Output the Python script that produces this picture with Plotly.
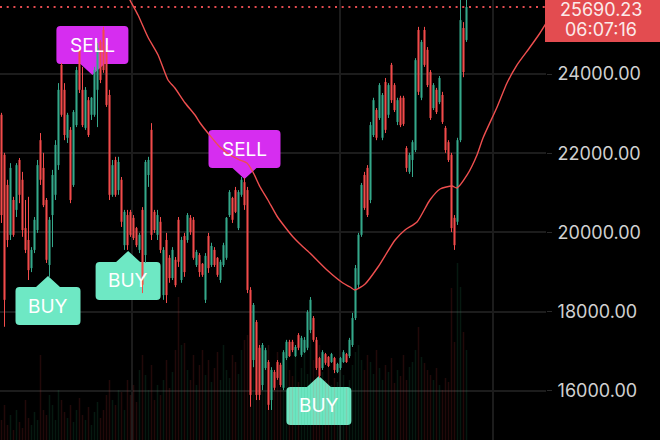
import plotly.graph_objects as go

# ---------------- data ----------------
opens = [22970, 21960, 21200, 19940, 20820, 20570, 21830, 21330, 20110, 19810,
         19100, 19560, 20060, 22330, 21630, 20820, 19180, 20440, 20950, 21700,
         24230, 23600, 22390, 22590, 21200, 22710, 24610, 23600, 22640, 23340,
         22970, 22970, 23600, 24810, 25110, 24730, 23470, 20950, 21830, 21070,
         21330, 19680, 20440, 20520, 20370, 20110, 19560, 20570, 19430, 21450,
         22590, 20520, 19940, 20270, 18420, 19810, 19360, 18850, 19310, 20320,
         18800, 19910, 19810, 20370, 20320, 19180, 19430, 19210, 18300, 19910,
         19180, 19560, 19360, 18800, 19180, 19360, 20440, 20870, 21070, 20110,
         20950, 21270, 21070, 18550, 16780, 17740, 17090, 16150, 16580, 16730,
         15770, 16480, 16730, 16660, 16080, 16830, 17240, 17240, 16880, 17410,
         16910, 16980, 17090, 17540, 17840, 17290, 16830, 16580, 16930, 16860,
         16730, 16830, 16480, 16580, 16730, 16930, 16880, 17160, 17840, 18680,
         19940, 21450, 21630, 20820, 22460, 23090, 22890, 22390, 23800, 22970,
         24230, 23720, 22790, 23400, 23400, 22130, 21530, 21830, 22080, 25110,
         23400, 25110, 24610, 24050, 23140, 23600, 23290, 23470, 22640, 22280,
         21960, 20370, 20270, 22330, 25160, 24860]
highs = [23020, 22010, 21330, 21750, 20900, 21750, 21880, 21530, 20820, 20900,
         19630, 20390, 21830, 22510, 22010, 20870, 20390, 21580, 22330, 23770,
         24280, 23770, 23020, 22660, 23090, 24180, 24680, 24180, 23670, 23420,
         23420, 24180, 24780, 24860, 25190, 24860, 23600, 21830, 21910, 21910,
         21400, 20570, 20570, 20570, 20440, 20140, 19990, 20640, 21830, 21910,
         22760, 20570, 20570, 20390, 19630, 19990, 19430, 19630, 19380, 20390,
         19890, 19990, 20490, 20440, 20390, 19560, 19480, 19230, 19480, 19990,
         19740, 19630, 19380, 19310, 19740, 20390, 21070, 20900, 21150, 21070,
         21400, 21380, 21150, 18620, 18220, 17790, 17160, 17210, 17090, 16780,
         16600, 16530, 16780, 16710, 17030, 17290, 17290, 17290, 17160, 17460,
         17390, 17360, 18040, 18370, 17890, 17360, 16860, 17030, 16960, 16880,
         16960, 16860, 16710, 16860, 17030, 16960, 17340, 17970, 19180, 19990,
         21250, 21530, 21700, 22790, 23400, 23140, 23770, 23520, 23900, 23770,
         24280, 23770, 23400, 23450, 23450, 22180, 22010, 22330, 24400, 25190,
         24860, 25190, 24680, 24100, 23770, 23650, 23950, 23550, 22690, 22330,
         22010, 20440, 22390, 25990, 25310, 26070]
lows = [20240, 17620, 19630, 19810, 19890, 20390, 20740, 19890, 19480, 18800,
        19000, 19480, 19990, 21200, 20640, 19230, 18880, 19630, 20820, 21580,
        22920, 22330, 22260, 20740, 21150, 22660, 23520, 22660, 22590, 22410,
        22840, 22920, 22660, 23770, 24030, 23170, 20820, 20900, 20900, 20950,
        20140, 19560, 19560, 19890, 19810, 19630, 19480, 18470, 19230, 21150,
        19810, 19990, 19810, 19480, 18300, 18220, 18730, 18800, 18620, 19130,
        18730, 18880, 19740, 19940, 19310, 19130, 18880, 18880, 18220, 18980,
        19130, 19130, 18880, 18730, 19130, 19310, 20390, 20240, 20490, 20060,
        20900, 20570, 18470, 15600, 16600, 15770, 15770, 16020, 16530, 15520,
        15520, 16020, 16280, 16100, 16020, 16780, 16860, 16980, 16860, 17030,
        16860, 16960, 17030, 17460, 17240, 16530, 16330, 16530, 16660, 16600,
        16710, 16450, 16450, 16530, 16710, 16710, 16830, 17110, 17790, 18600,
        19890, 20570, 20390, 20740, 22410, 22330, 22840, 22330, 22510, 22890,
        23270, 23040, 22710, 22660, 22690, 21530, 21480, 21400, 22030, 23470,
        23340, 24180, 23670, 22840, 23090, 22990, 23240, 22740, 22010, 21780,
        20010, 19560, 20190, 22280, 23920, 24810]
closes = [20440, 18300, 19810, 21630, 19940, 21700, 20950, 20060, 19560, 19050,
          19560, 20320, 21700, 21330, 20690, 19310, 20320, 21450, 22210, 23600,
          22970, 22460, 22970, 20820, 23040, 24100, 23600, 22710, 23600, 22460,
          23400, 24100, 24660, 23850, 24100, 23220, 20950, 21700, 20950, 21780,
          20270, 20520, 19680, 19940, 19860, 19680, 19940, 18680, 21780, 21830,
          19940, 20060, 20440, 19560, 19560, 18420, 18850, 19560, 18670, 19260,
          19810, 19000, 20440, 20010, 19360, 19510, 19000, 18930, 19410, 19100,
          19660, 19180, 18930, 19260, 19680, 20370, 21020, 20320, 20520, 21020,
          21330, 20690, 18550, 15900, 18170, 15900, 15900, 17160, 17030, 15650,
          16530, 16080, 16330, 16150, 16980, 17240, 16880, 17030, 17110, 17090,
          17340, 17290, 17990, 18300, 17290, 16580, 16380, 16980, 16710, 16630,
          16930, 16530, 16680, 16830, 16980, 16730, 17290, 17840, 19100, 19940,
          21200, 20620, 20440, 22710, 23340, 22390, 23720, 23470, 22590, 23720,
          23340, 23090, 23340, 22710, 22740, 21630, 21960, 22280, 24350, 23550,
          24810, 24230, 23720, 22890, 23720, 23040, 23900, 22790, 22080, 21830,
          20110, 19680, 22330, 25360, 24050, 25690.23]
volumes = [20, 35, 15, 25, 10, 30, 18, 12, 40, 22, 15, 28, 20, 85,
           30, 25, 45, 35, 20, 50, 40, 28, 22, 35, 18, 30, 42, 25, 20, 33, 15, 28, 38, 22, 30, 45, 60,
           40, 35, 50, 48, 30, 60, 45, 55, 38, 70, 85, 65, 50, 75, 40, 55, 45, 60, 80, 52, 68, 90, 143, 95,
           97, 70, 60, 85, 55, 75, 90, 65, 80, 58, 72, 88, 60, 95, 70, 62, 85, 78, 66, 90, 100,
           105, 120, 90, 85, 100, 75, 80, 95, 70, 65, 88, 60, 78, 92, 70, 64, 85, 58, 72, 90, 66, 110,
           80, 75, 95, 68, 60, 72, 55,
           62, 58, 70, 65, 52, 60, 75, 88, 95, 80, 70, 85, 78, 66, 90, 72, 60, 75, 68, 82, 57, 70, 64,
           85, 60, 73, 78,
           90, 113, 83, 77, 70, 65, 60, 72, 55, 50, 62, 58, 152, 98, 177, 153, 108, 90]

ma_index = [41.2, 42.8, 45.5, 48.8, 52.2, 55.5, 57.8, 61.2, 64.5, 66.2, 68.8, 72.8, 76.2,
            79.5, 81.8, 83.8, 86.2, 88.8, 91.8, 94.5, 97.2, 99.5, 102.8, 108.5, 113.8,
            116.2, 117.8, 121.2, 125.5, 131.2, 134.5, 138.5, 142.8, 146.2, 150.2, 151.8,
            155.2, 158.5, 160.5, 165.2, 168.5, 171.8, 176.2, 179.5, 182.2]
ma_values = [26120, 25868, 25489, 24934, 24480, 23849, 23647, 23268, 22965, 22763, 22511, 22157,
             21956, 21829, 21754, 21527, 21148, 20820, 20416, 20138, 19886, 19710, 19482, 19053,
             18725, 18624, 18548, 18700, 19129, 19810, 20063, 20264, 20820, 21097, 21173, 21123,
             21451, 21956, 22385, 23167, 23773, 24227, 24681, 25035, 25363]

sell_index = [30.3, 81.0]
sell_price = [23975, 21350]
buy_index = [15.5, 42.2, 105.8]
buy_price = [18900, 19533, 16378]

y_ticks = [16000, 18000, 20000, 22000, 24000]
y_tick_labels = ["16000.00", "18000.00", "20000.00", "22000.00", "24000.00"]
x_grid = [43.5, 112.8, 163.8]

last_price = 25690.23
last_price_label = "25690.23"
countdown_label = "06:07:16"

# ---------------- styling ----------------
INC = "#35a88b"
DEC = "#f24c4c"
MA_COLOR = "#ef4f4f"
SELL_COLOR = "#d62df0"
BUY_COLOR = "#6ee8c4"
LABEL_RED = "#e34c50"
GRID = "#1c1c1c"
FONT = "Inter, Roboto, sans-serif"

idx = list(range(len(closes)))
vol_colors = ["rgba(40,170,110,0.15)" if c >= o else "rgba(225,60,60,0.15)"
              for o, c in zip(opens, closes)]

fig = go.Figure()
fig.add_trace(go.Bar(x=idx, y=volumes, yaxis="y2", width=0.5,
                     marker=dict(color=vol_colors, line=dict(width=0)),
                     hoverinfo="skip"))
fig.add_trace(go.Candlestick(
    x=idx, open=opens, high=highs, low=lows, close=closes,
    increasing=dict(line=dict(color=INC, width=1), fillcolor=INC),
    decreasing=dict(line=dict(color=DEC, width=1), fillcolor=DEC),
    whiskerwidth=0, hoverinfo="skip"))
fig.add_trace(go.Scatter(x=ma_index, y=ma_values, mode="lines",
                         line=dict(color=MA_COLOR, width=1.4, shape="spline", smoothing=0.6),
                         hoverinfo="skip"))


def bubble(hw, down):
    b, t, tri, r = 11, 49, 12, 4
    s = -1 if down else 1
    pts = (f"M0,0 L{-tri},{s*b} L{-hw+r},{s*b} Q{-hw},{s*b} {-hw},{s*(b+r)} "
           f"L{-hw},{s*(t-r)} Q{-hw},{s*t} {-hw+r},{s*t} L{hw-r},{s*t} "
           f"Q{hw},{s*t} {hw},{s*(t-r)} L{hw},{s*(b+r)} Q{hw},{s*b} {hw-r},{s*b} "
           f"L{tri},{s*b} Z")
    return pts


shapes = []
annotations = []
for xi, pr in zip(sell_index, sell_price):
    shapes.append(dict(type="path", xref="x", yref="y", xsizemode="pixel", ysizemode="pixel",
                       xanchor=xi, yanchor=pr, path=bubble(36, False),
                       fillcolor=SELL_COLOR, line=dict(width=0), layer="between"))
    annotations.append(dict(x=xi, y=pr, xref="x", yref="y", text="SELL", showarrow=False,
                            yshift=30, font=dict(family=FONT, size=19, color="white")))
for xi, pr in zip(buy_index, buy_price):
    shapes.append(dict(type="path", xref="x", yref="y", xsizemode="pixel", ysizemode="pixel",
                       xanchor=xi, yanchor=pr, path=bubble(32.5, True),
                       fillcolor=BUY_COLOR, line=dict(width=0), layer="between"))
    annotations.append(dict(x=xi, y=pr, xref="x", yref="y", text="BUY", showarrow=False,
                            yshift=-30, font=dict(family=FONT, size=19, color="white")))

# last price dotted line and label
shapes.append(dict(type="line", xref="paper", yref="y", x0=0, x1=1, y0=last_price, y1=last_price,
                   line=dict(color=LABEL_RED, width=2, dash="2px,4.7px"), layer="between"))
PW = 660 - 114
shapes.append(dict(type="rect", xref="paper", yref="paper", x0=545 / PW, x1=662 / PW,
                   y0=1 - 42 / 440, y1=1.02, fillcolor=LABEL_RED, line=dict(width=0), layer="above"))
annotations.append(dict(xref="paper", yref="paper", x=601 / PW, y=1 - 9 / 440, text=last_price_label,
                        showarrow=False, xanchor="center", yanchor="middle",
                        font=dict(family=FONT, size=18, color="#fbeaea")))
annotations.append(dict(xref="paper", yref="paper", x=601 / PW, y=1 - 29 / 440, text=countdown_label,
                        showarrow=False, xanchor="center", yanchor="middle",
                        font=dict(family=FONT, size=18, color="#fbeaea")))

fig.update_layout(
    width=660, height=440,
    margin=dict(l=0, r=114, t=0, b=0),
    paper_bgcolor="black", plot_bgcolor="black",
    showlegend=False, boxgap=0.5,
    shapes=shapes, annotations=annotations,
    xaxis=dict(range=[-0.5, 181.5], tickvals=x_grid, showticklabels=False, ticks="",
               showgrid=True, gridcolor=GRID, gridwidth=1.5, zeroline=False, showline=False,
               rangeslider=dict(visible=False), fixedrange=True),
    yaxis=dict(range=[14762, 25868], side="right", tickvals=y_ticks, ticktext=y_tick_labels,
               tickfont=dict(family=FONT, size=18, color="#d0d0d0"),
               showgrid=True, gridcolor=GRID, gridwidth=1.5, zeroline=False, showline=False,
               ticks="outside", ticklen=5, tickcolor="#2a2a2a", ticklabelstandoff=2,
               automargin=False, fixedrange=True),
    yaxis2=dict(range=[0, 440], overlaying="y", visible=False, fixedrange=True),
)

fig.write_html("out.html", config={"displayModeBar": False},
               post_script="document.body.style.margin='0';document.body.style.padding='0';"
                           "document.body.style.background='black';")
